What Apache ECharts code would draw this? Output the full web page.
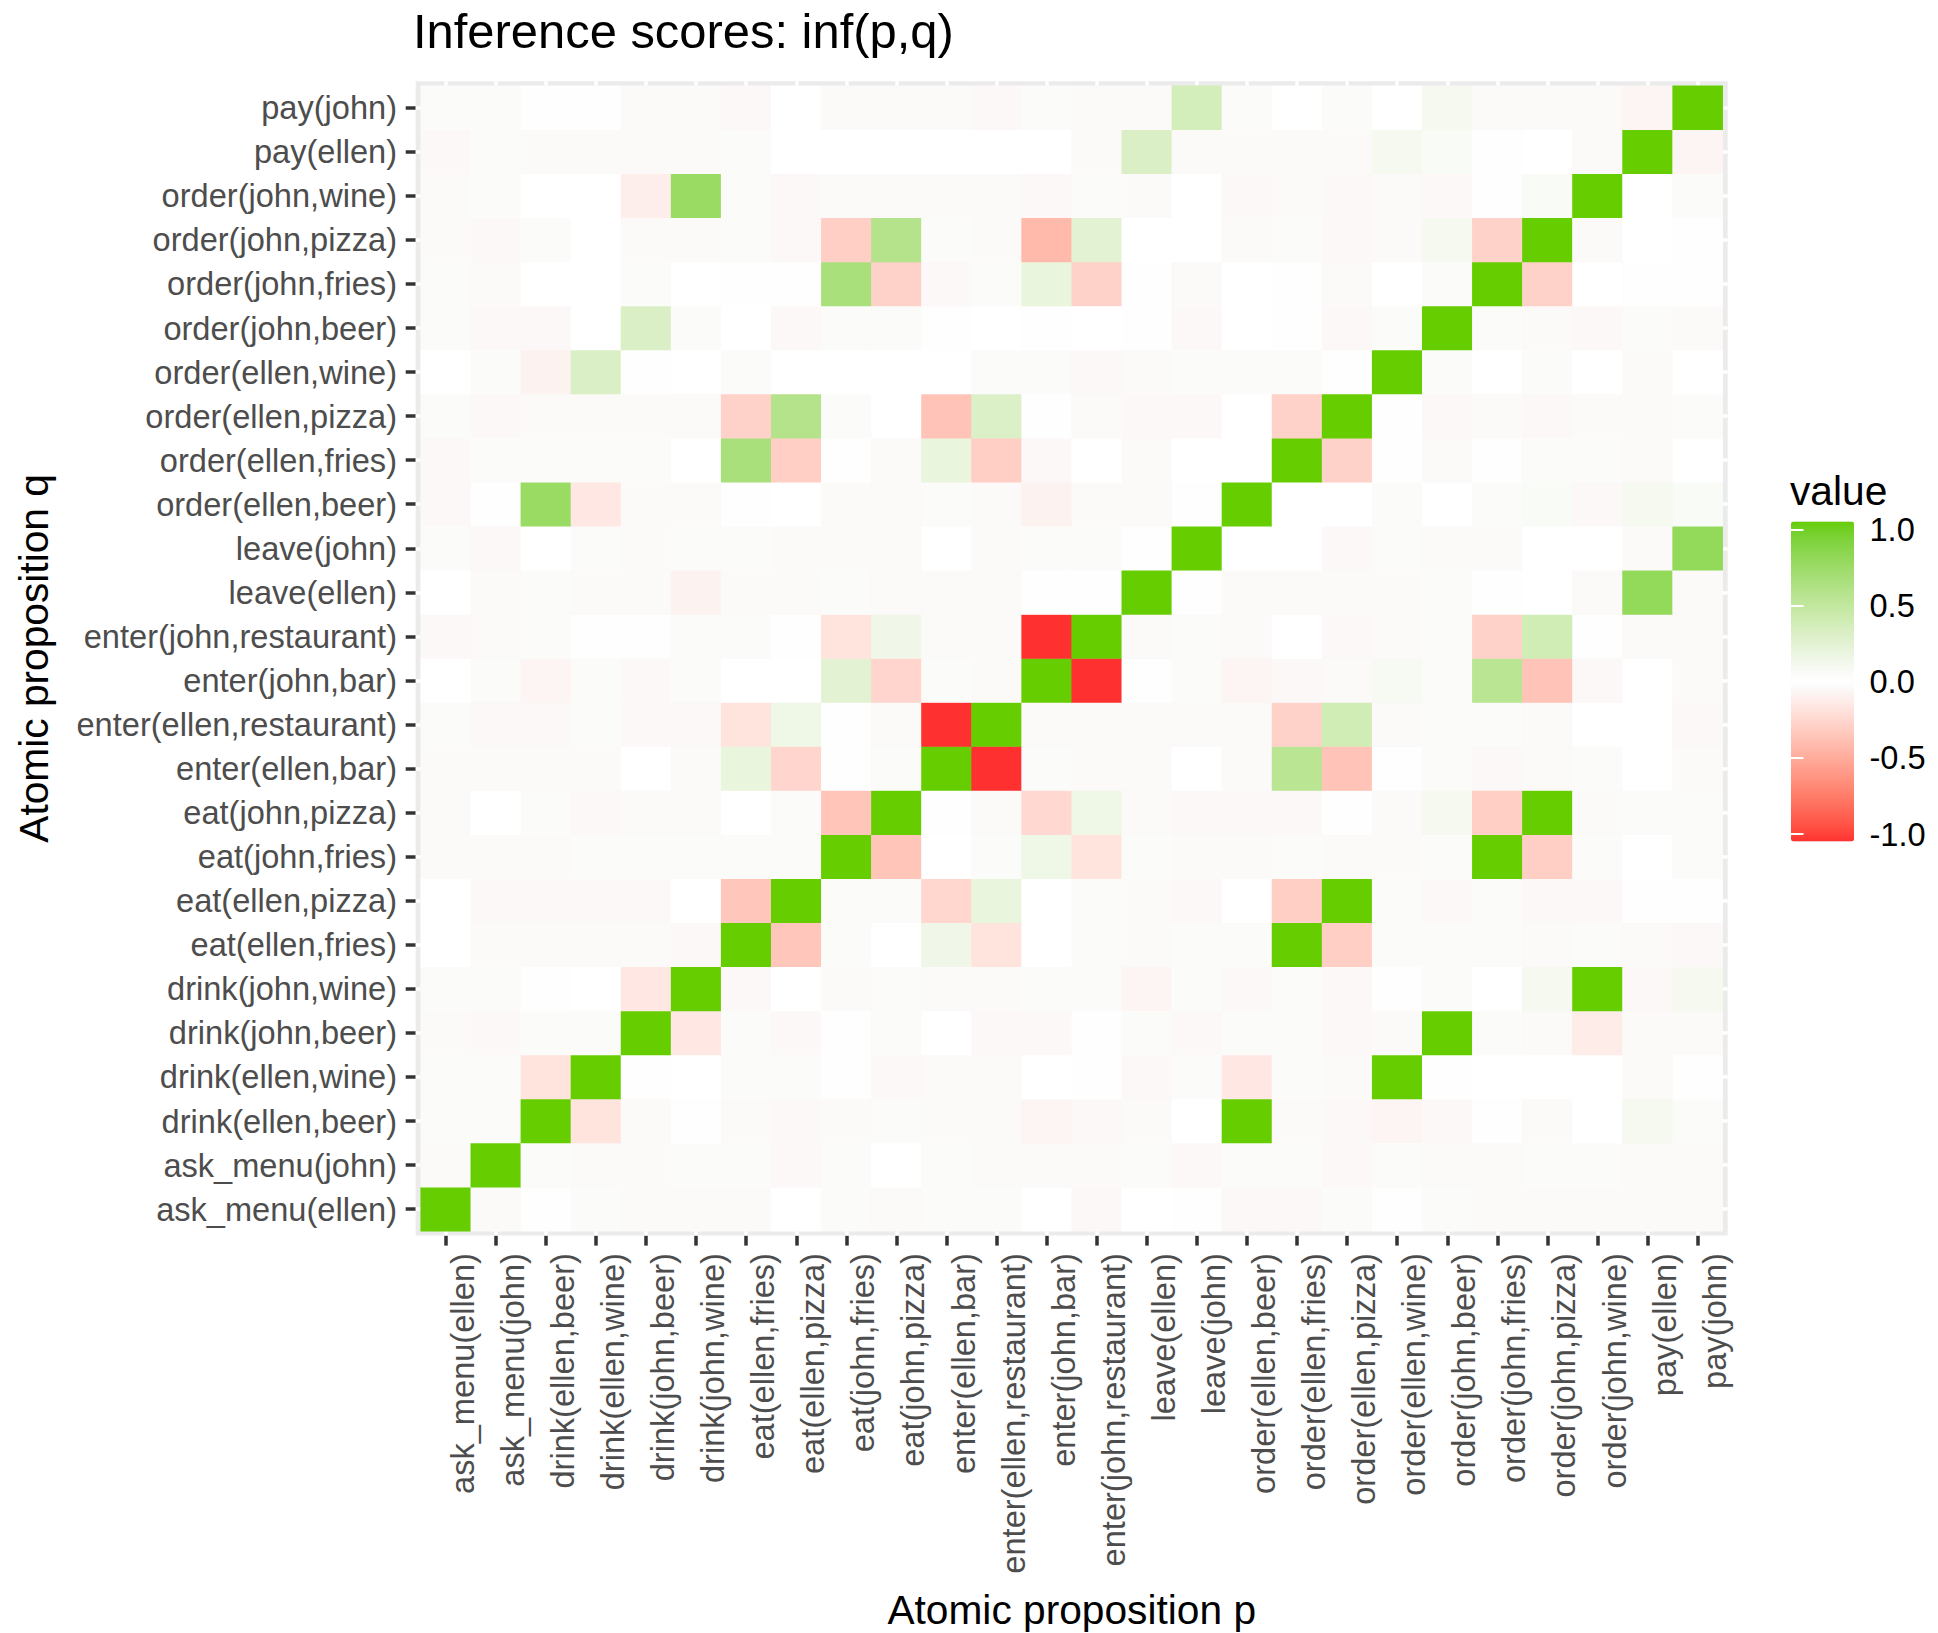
<!DOCTYPE html>
<html>
<head>
<meta charset="utf-8">
<script src="https://cdn.jsdelivr.net/npm/echarts@6/dist/echarts.min.js"></script>
<style>html,body{margin:0;padding:0;background:#fff}#chart{width:1938px;height:1633px}</style>
</head>
<body>
<div id="chart"></div>
<script>
// ---------------- DATA ----------------
const categories = [
  'ask_menu(ellen)','ask_menu(john)','drink(ellen,beer)','drink(ellen,wine)',
  'drink(john,beer)','drink(john,wine)','eat(ellen,fries)','eat(ellen,pizza)',
  'eat(john,fries)','eat(john,pizza)','enter(ellen,bar)','enter(ellen,restaurant)',
  'enter(john,bar)','enter(john,restaurant)','leave(ellen)','leave(john)',
  'order(ellen,beer)','order(ellen,fries)','order(ellen,pizza)','order(ellen,wine)',
  'order(john,beer)','order(john,fries)','order(john,pizza)','order(john,wine)',
  'pay(ellen)','pay(john)'
];
const legendBreaks = [-1, -0.5, 0, 0.5, 1];

// one array per proposition q (row); values across p in category order
const q_ask_menu_ellen = [1,-0.04,0.02,0.04,-0.04,-0.04,-0.04,0,0.04,-0.04,0.04,0.04,0,-0.05,0,0.02,-0.05,-0.05,0.04,0.02,0.04,-0.04,-0.04,-0.04,-0.04,-0.04];
const q_ask_menu_john = [-0.04,1,0.04,-0.04,-0.04,0.04,0.04,-0.05,0.04,0,0.04,-0.04,-0.04,-0.04,0.04,-0.05,0.04,0.04,-0.05,0.04,-0.04,-0.04,0.04,0.04,-0.04,-0.04];
const q_drink_ellen_beer = [0.04,0.04,1,-0.17,-0.04,0.02,-0.04,-0.05,-0.04,0.04,-0.04,-0.04,-0.07,-0.05,-0.04,0,1,-0.04,-0.05,-0.07,-0.05,0.02,-0.04,0,0.1,0.04];
const q_drink_ellen_wine = [0.04,0.04,-0.17,1,0.02,0,0.04,0.04,0.02,-0.05,-0.04,-0.04,0,0.02,-0.05,0.04,-0.15,0.04,-0.04,1,0.02,0,0,0,-0.04,0.02];
const q_drink_john_beer = [-0.04,-0.05,0.04,0.04,1,-0.15,0.04,-0.05,0.02,0.04,0,-0.05,-0.05,0.02,0.04,-0.05,0.04,0.04,-0.05,-0.04,1,0.04,-0.04,-0.12,-0.04,-0.04];
const q_drink_john_wine = [0.04,0.04,0.02,0,-0.15,1,-0.05,0,-0.04,0.04,-0.04,-0.04,0.04,0.04,-0.07,0.04,-0.05,0.04,-0.05,0.02,0.04,0,0.1,1,-0.05,0.1];
const q_eat_ellen_fries = [0,-0.04,-0.04,-0.04,-0.04,-0.05,1,-0.33,0.04,0,0.14,-0.17,0,0.04,-0.04,0.04,0.04,1,-0.29,0.04,0.04,0.04,-0.04,0.04,-0.04,-0.05];
const q_eat_ellen_pizza = [0,-0.05,-0.05,-0.05,-0.05,0,-0.33,1,0.04,0.04,-0.24,0.19,0,0.04,-0.04,-0.05,0,-0.29,1,0.04,-0.05,0.04,-0.05,-0.05,0.02,0.02];
const q_eat_john_fries = [-0.04,-0.04,-0.04,0.04,0.04,0.04,0.04,0.04,1,-0.34,0,0.04,0.15,-0.17,0.04,-0.04,-0.04,0.04,-0.04,-0.04,0.04,1,-0.29,0.04,0,0.04];
const q_eat_john_pizza = [-0.04,0,0.04,-0.05,-0.04,-0.04,0,0.04,-0.34,1,0.02,-0.04,-0.23,0.15,-0.04,-0.05,-0.05,-0.05,0.02,-0.04,0.1,-0.29,1,-0.04,0.04,0.04];
const q_enter_ellen_bar = [-0.04,-0.04,-0.04,-0.04,0,-0.04,0.19,-0.25,0.02,0.04,1,-1,0.04,-0.04,-0.04,0,-0.04,0.53,-0.35,0.02,0.04,-0.05,-0.04,0.04,0,-0.04];
const q_enter_ellen_restaurant = [0.04,-0.05,-0.05,0.04,-0.05,-0.05,-0.17,0.15,0.02,-0.04,-1,1,-0.04,-0.04,-0.04,-0.04,-0.04,-0.27,0.37,-0.04,0.04,0.04,-0.04,0,0,-0.05];
const q_enter_john_bar = [0,0.04,-0.07,0.04,-0.05,0.04,0,0,0.24,-0.25,0.04,-0.04,1,-1,0.02,0.04,-0.07,-0.05,-0.04,0.08,0.04,0.53,-0.35,-0.05,0,-0.04];
const q_enter_john_restaurant = [-0.05,-0.04,0.04,0.02,0.02,0.04,0.04,0.02,-0.17,0.14,-0.04,-0.04,-1,1,-0.04,0.04,-0.04,0,-0.05,-0.04,0.04,-0.27,0.37,0.02,-0.04,-0.04];
const q_leave_ellen = [0,-0.04,0.04,-0.04,-0.04,-0.08,-0.04,-0.04,0.04,-0.04,-0.04,-0.04,0.02,0.02,1,0.02,-0.04,-0.04,-0.04,-0.04,0.04,0.02,0,-0.04,0.77,-0.04];
const q_leave_john = [0.04,-0.05,0,0.04,-0.04,0.04,0.04,-0.04,-0.04,-0.04,0,-0.04,0.04,0.04,0.02,1,0,0,-0.05,0.04,-0.04,-0.04,0,0,-0.04,0.77];
const q_order_ellen_beer = [-0.05,0.02,0.73,-0.15,-0.04,-0.04,0.02,0,-0.04,-0.04,0.04,-0.04,-0.08,-0.04,-0.04,0.02,1,0,0,0.04,0,0.04,0.06,-0.05,0.1,0.06];
const q_order_ellen_fries = [-0.05,0.04,0.04,0.04,0.04,0,0.63,-0.29,0.02,-0.04,0.19,-0.29,-0.05,0,-0.04,0,0,1,-0.27,0.02,-0.04,0.02,0.04,0.04,-0.04,0];
const q_order_ellen_pizza = [0.04,-0.05,-0.04,-0.04,-0.04,-0.04,-0.27,0.56,0.04,0,-0.35,0.29,0.02,-0.04,-0.05,-0.05,0,-0.27,1,0.02,-0.05,-0.04,-0.05,-0.04,-0.04,0.04];
const q_order_ellen_wine = [0,0.04,-0.08,0.3,0.02,0,0.04,0,0,0,0,0.04,0.04,-0.05,-0.04,0.04,0.04,0.04,0.02,1,0.04,0,0.04,0,-0.04,0];
const q_order_john_beer = [0.04,-0.05,-0.05,0,0.3,0.04,0,-0.05,0.04,0.04,0.02,0,0.02,0,0.02,-0.05,0,0.02,-0.05,0.04,1,0.04,-0.04,-0.05,0.04,-0.04];
const q_order_john_fries = [0.04,-0.04,0,0,0.04,0,0.02,0.02,0.63,-0.27,-0.05,0.04,0.19,-0.27,0.02,-0.04,0,0.02,-0.04,0,0.04,1,-0.27,0,0.02,0.02];
const q_order_john_pizza = [-0.04,-0.05,0.04,0,-0.04,-0.04,0.04,-0.05,-0.29,0.56,0.04,-0.04,-0.4,0.24,0,0,-0.04,0.04,-0.05,-0.04,0.1,-0.27,1,-0.04,0,0.02];
const q_order_john_wine = [-0.04,0.04,0,0,-0.11,0.73,0.04,-0.05,-0.04,-0.04,-0.04,-0.04,-0.05,0.04,-0.04,0,-0.05,-0.04,-0.05,-0.04,-0.05,0.02,0.06,1,0,0.04];
const q_pay_ellen = [-0.05,0.04,-0.04,-0.04,-0.04,-0.04,0.04,0,0,0,0,0,0,-0.04,0.3,-0.04,-0.04,-0.04,-0.04,0.1,0.06,0.02,0,-0.04,1,-0.07];
const q_pay_john = [0.04,0.04,0.02,0.02,-0.04,-0.04,-0.05,0,-0.04,-0.04,-0.04,-0.05,0.04,-0.04,-0.04,0.35,0.04,0,0.04,0,0.1,-0.04,-0.04,-0.04,-0.07,1];

const rows = [
  q_ask_menu_ellen, q_ask_menu_john, q_drink_ellen_beer, q_drink_ellen_wine,
  q_drink_john_beer, q_drink_john_wine, q_eat_ellen_fries, q_eat_ellen_pizza,
  q_eat_john_fries, q_eat_john_pizza, q_enter_ellen_bar, q_enter_ellen_restaurant,
  q_enter_john_bar, q_enter_john_restaurant, q_leave_ellen, q_leave_john,
  q_order_ellen_beer, q_order_ellen_fries, q_order_ellen_pizza, q_order_ellen_wine,
  q_order_john_beer, q_order_john_fries, q_order_john_pizza, q_order_john_wine,
  q_pay_ellen, q_pay_john
];

// ---------------- COLOUR SCALE (Lab interpolation, diverging at 0) ----------------
const LOW = '#FF3030', MID = '#FFFFFF', HIGH = '#66CD00';
const CHROMA_K = 0.1;
function hex2rgb(h){h=h.replace('#','');return [0,2,4].map(i=>parseInt(h.substr(i,2),16));}
function toLin(c){c/=255;return c<=0.04045?c/12.92:Math.pow((c+0.055)/1.055,2.4);}
function fromLin(c){c=c<=0.0031308?12.92*c:1.055*Math.pow(c,1/2.4)-0.055;return Math.max(0,Math.min(255,Math.round(c*255)));}
const XN=0.95047,YN=1,ZN=1.08883;
function fLab(t){return t>0.008856?Math.cbrt(t):7.787*t+16/116;}
function fInv(t){const t3=t*t*t;return t3>0.008856?t3:(t-16/116)/7.787;}
function hex2lab(h){
  const [r,g,b]=hex2rgb(h).map(toLin);
  const X=0.4124564*r+0.3575761*g+0.1804375*b, Y=0.2126729*r+0.7151522*g+0.0721750*b, Z=0.0193339*r+0.1191920*g+0.9503041*b;
  const fx=fLab(X/XN), fy=fLab(Y/YN), fz=fLab(Z/ZN);
  return [116*fy-16, 500*(fx-fy), 200*(fy-fz)];
}
function lab2hex(L,a,b){
  const fy=(L+16)/116, fx=fy+a/500, fz=fy-b/200;
  const X=XN*fInv(fx), Y=YN*fInv(fy), Z=ZN*fInv(fz);
  const r=3.2404542*X-1.5371385*Y-0.4985314*Z, g=-0.9692660*X+1.8760108*Y+0.0415560*Z, bb=0.0556434*X-0.2040259*Y+1.0572252*Z;
  return '#'+[r,g,bb].map(fromLin).map(v=>v.toString(16).padStart(2,'0')).join('');
}
const labLow=hex2lab(LOW), labMid=hex2lab(MID), labHigh=hex2lab(HIGH);
const stops=[];
for(let i=0;i<=100;i++){
  const v=-1+i/50;
  const t=Math.abs(v), tc=t*(t/(t+CHROMA_K))*(1+CHROMA_K), end=v<0?labLow:labHigh;
  stops.push(lab2hex(labMid[0]+(end[0]-labMid[0])*t, labMid[1]+(end[1]-labMid[1])*tc, labMid[2]+(end[2]-labMid[2])*tc));
}

// ---------------- CHART ----------------
const FONT = '"Liberation Sans", Arial, Helvetica, sans-serif';
const data = [];
rows.forEach((row, y) => row.forEach((v, x) => data.push([x, y, v])));

// layout (px)
const tileL = 420.7, tileT = 85.7, tileW = 1302, tileH = 1145.5;
const padX = 5.0, padY = 4.4;
const tickColor = '#333333';

function whiteTickAxis(dim, pos){
  return {
    gridIndex: 0, type: 'category', data: categories, position: pos, offset: 0,
    axisLine: {show: false}, axisLabel: {show: false}, splitLine: {show: false},
    axisTick: {show: true, alignWithLabel: true, interval: 0, length: dim === 'x' ? padY : padX, lineStyle: {color: '#FFFFFF', width: 3.5}},
    silent: true
  };
}

const option = {
  animation: false,
  backgroundColor: '#FFFFFF',
  grid: [
    {left: tileL, top: tileT, width: tileW, height: tileH, containLabel: false, show: false},
    {left: tileL - padX, top: tileT - padY, width: tileW + 2 * padX, height: tileH + 2 * padY, show: true, backgroundColor: '#EBEBEB', borderWidth: 0, z: -1},
    {left: 1791, top: 529.6, width: 63, height: 304.4, show: false}
  ],
  xAxis: [
    {
      gridIndex: 0, type: 'category', data: categories, position: 'bottom', offset: padY,
      axisLine: {show: false}, splitLine: {show: false},
      axisTick: {show: true, alignWithLabel: true, interval: 0, length: 10, lineStyle: {color: tickColor, width: 3.5}},
      axisLabel: {interval: 0, rotate: 90, fontSize: 32.6, color: '#4D4D4D', fontFamily: FONT, margin: 17.5, verticalAlign: 'top'}
    },
    whiteTickAxis('x', 'bottom'),
    whiteTickAxis('x', 'top'),
    {gridIndex: 1, type: 'value', show: false, min: 0, max: 1},
    {gridIndex: 2, type: 'value', show: false, min: 0, max: 1}
  ],
  yAxis: [
    {
      gridIndex: 0, type: 'category', data: categories, position: 'left', offset: padX,
      axisLine: {show: false}, splitLine: {show: false},
      axisTick: {show: true, alignWithLabel: true, interval: 0, length: 10, lineStyle: {color: tickColor, width: 3.5}},
      axisLabel: {interval: 0, fontSize: 32.6, color: '#4D4D4D', fontFamily: FONT, margin: 18.7}
    },
    whiteTickAxis('y', 'left'),
    whiteTickAxis('y', 'right'),
    {gridIndex: 1, type: 'value', show: false, min: 0, max: 1},
    {
      gridIndex: 2, type: 'value', position: 'right', min: legendBreaks[0], max: legendBreaks[legendBreaks.length - 1], interval: 0.5, z: 10,
      axisLine: {show: false}, splitLine: {show: false},
      axisTick: {show: true, inside: true, length: 12.5, lineStyle: {color: '#FFFFFF', width: 2}},
      axisLabel: {fontSize: 32.6, color: '#000000', fontFamily: FONT, margin: 15.5, formatter: v => v.toFixed(1)}
    },
    {
      gridIndex: 2, type: 'value', position: 'left', min: legendBreaks[0], max: legendBreaks[legendBreaks.length - 1], interval: 0.5, z: 10,
      axisLine: {show: false}, splitLine: {show: false}, axisLabel: {show: false},
      axisTick: {show: true, inside: true, length: 12.5, lineStyle: {color: '#FFFFFF', width: 2}}
    }
  ],
  visualMap: {
    type: 'continuous', min: -1, max: 1, seriesIndex: 0, dimension: 2,
    calculable: false, hoverLink: false, realtime: false,
    orient: 'vertical', left: 1791, top: 521.6, padding: 0,
    itemWidth: 63, itemHeight: 320,
    inRange: {color: stops},
    textStyle: {fontSize: 1, color: 'rgba(0,0,0,0)'}
  },
  series: [{
    type: 'heatmap', xAxisIndex: 0, yAxisIndex: 0, data: data,
    itemStyle: {borderWidth: 0},
    emphasis: {disabled: true},
    progressive: 0
  }],
  graphic: [
    {type: 'text', x: 413, y: 31.1, silent: true,
     style: {text: 'Inference scores: inf(p,q)', fontSize: 48.9, fontFamily: FONT, fill: '#000000', textAlign: 'left', textVerticalAlign: 'middle'}},
    {type: 'text', x: tileL + tileW / 2, y: 1609.9, silent: true,
     style: {text: 'Atomic proposition p', fontSize: 40.7, fontFamily: FONT, fill: '#000000', textAlign: 'center', textVerticalAlign: 'middle'}},
    {type: 'text', x: 34, y: tileT + tileH / 2, rotation: Math.PI / 2, silent: true,
     style: {text: 'Atomic proposition q', fontSize: 40.7, fontFamily: FONT, fill: '#000000', textAlign: 'center', textVerticalAlign: 'middle'}},
    {type: 'text', x: 1790, y: 490.9, silent: true,
     style: {text: 'value', fontSize: 40.7, fontFamily: FONT, fill: '#000000', textAlign: 'left', textVerticalAlign: 'middle'}}
  ]
};

const chart = echarts.init(document.getElementById('chart'), null, {renderer: 'svg', width: 1938, height: 1633});
chart.setOption(option);
</script>
</body>
</html>
